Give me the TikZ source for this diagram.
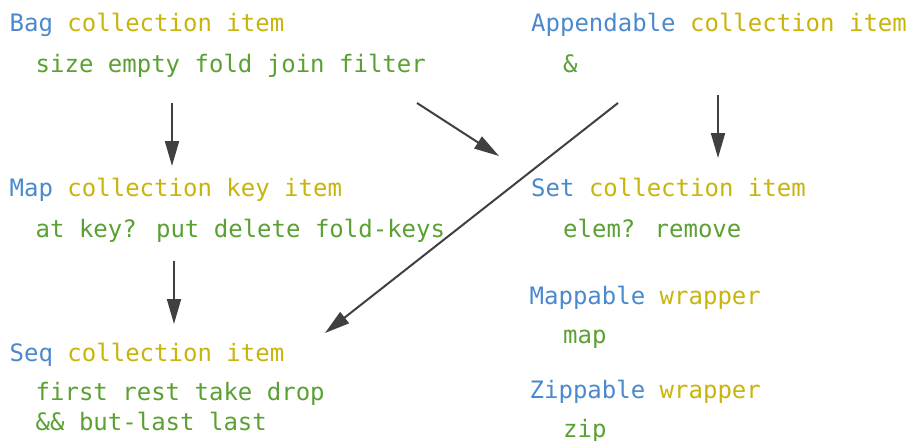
\documentclass[tikz,border=0pt]{standalone}
\usepackage{fontspec}
\setmainfont{DejaVu Sans Mono}
\usetikzlibrary{arrows.meta}
\definecolor{protoblue}{RGB}{74,137,206}
\definecolor{typeyellow}{RGB}{200,180,10}
\definecolor{fngreen}{RGB}{90,160,50}
\definecolor{arrowgray}{RGB}{64,64,64}
\tikzset{
  txt/.style={anchor=base west, inner sep=0pt, font=\fontsize{24}{28}\selectfont},
  proto/.style={text=protoblue},
  tparam/.style={text=typeyellow},
  fns/.style={txt, text=fngreen},
  link/.style={draw=arrowgray, line width=2pt,
    -{Triangle[length=25pt,width=14pt]}}
}
\newcommand{\hdr}[2]{\textcolor{protoblue}{#1} \textcolor{typeyellow}{#2}}
\begin{document}
\begin{tikzpicture}[x=1pt,y=1pt]
\useasboundingbox (0,0) rectangle (911,-440);

% left column
\node[txt] (bag)  at (9.5,-31)  {\hdr{Bag}{collection item}};
\node[fns] (bagf) at (35.5,-72) {size empty fold join filter};
\node[txt] (map)  at (9.5,-196) {\hdr{Map}{collection key item}};
\node[fns] (mapf) at (35.5,-237) {at key? put delete fold-keys};
\node[txt] (seq)  at (9.5,-361) {\hdr{Seq}{collection item}};
\node[fns] (seqf) at (35.5,-400) {first rest take drop};
\node[fns] (seqg) at (35.5,-430) {\&\& but-last last};

% right column
\node[txt] (app)  at (531,-31)  {\hdr{Appendable}{collection item}};
\node[fns] (appf) at (563,-72)  {\&};
\node[txt] (set)  at (531,-196) {\hdr{Set}{collection item}};
\node[fns] (setf) at (563,-237) {elem? remove};
\node[txt] (mapp) at (529.5,-304) {\hdr{Mappable}{wrapper}};
\node[fns] (mappf) at (563,-343) {map};
\node[txt] (zipp) at (529.5,-398) {\hdr{Zippable}{wrapper}};
\node[fns] (zippf) at (563,-437) {zip};

% connector ends
\coordinate (bagA)  at (172,-103);
\coordinate (mapIn) at (172,-166);
\coordinate (bagB)  at (417,-103);
\coordinate (setInL) at (499,-156);
\coordinate (appA)  at (718,-95);
\coordinate (setIn) at (718,-158);
\coordinate (appB)  at (618,-103);
\coordinate (seqInR) at (325,-333);
\coordinate (mapA)  at (174,-261);
\coordinate (seqIn) at (174,-324);

\draw[link] (bagA) -- (mapIn);
\draw[link] (bagB) -- (setInL);
\draw[link] (appA) -- (setIn);
\draw[link] (appB) -- (seqInR);
\draw[link] (mapA) -- (seqIn);
\end{tikzpicture}
\end{document}
